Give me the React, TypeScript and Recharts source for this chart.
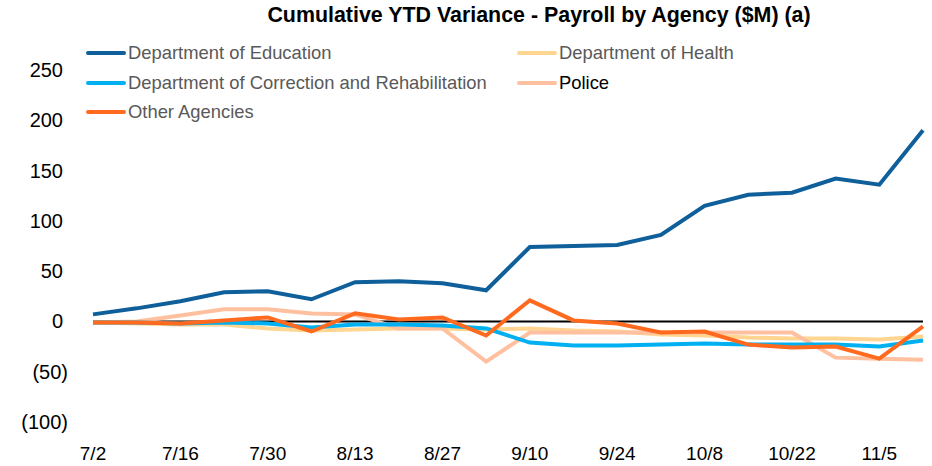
import { LineChart, Line, XAxis, YAxis, ReferenceLine } from "recharts";

const dates = ["7/2", "7/9", "7/16", "7/23", "7/30", "8/6", "8/13", "8/20", "8/27", "9/3", "9/10", "9/17", "9/24", "10/1", "10/8", "10/15", "10/22", "10/29", "11/5", "11/12"];

const education = [7, 13, 20, 29, 30, 22, 39, 40, 38, 31, 74, 75, 76, 86, 115, 126, 128, 142, 136, 190];
const health = [-1, -2, -3, -3, -7, -9, -8, -7, -7, -8, -7, -9, -10, -13, -14, -16, -17, -17, -18, -15];
const correction = [-1, -1, -2, -1, -2, -6, -3, -3, -4, -7, -21, -24, -24, -23, -22, -23, -23, -23, -25, -19];
const police = [-1, 0, 6, 12, 12, 8, 7, -7, -7, -40, -11, -11, -11, -11, -11, -11, -11, -36, -37, -38];
const other = [-1, -1, -2, 1, 4, -10, 8, 2, 4, -14, 21, 1, -2, -11, -10, -23, -26, -25, -37, -5];

const yTicks = [-100, -50, 0, 50, 100, 150, 200, 250];

const series = [
  { key: "education", name: "Department of Education", color: "#0f5f9a", values: education, labelColor: "#595959" },
  { key: "health", name: "Department of Health", color: "#ffd591", values: health, labelColor: "#595959" },
  { key: "correction", name: "Department of Correction and Rehabilitation", color: "#00b0f0", values: correction, labelColor: "#595959" },
  { key: "police", name: "Police", color: "#ffc0a0", values: police, labelColor: "#000000" },
  { key: "other", name: "Other Agencies", color: "#ff6a1f", values: other, labelColor: "#595959" },
];

// drawing order (back to front)
const drawOrder = ["health", "police", "correction", "education", "other"];

const data = dates.map((d, i) => {
  const row: Record<string, string | number> = { date: d };
  series.forEach((s) => {
    row[s.key] = s.values[i];
  });
  return row;
});

const FONT = "'Liberation Sans', Arial, sans-serif";

function fmt(v: number) {
  return v < 0 ? `(${Math.abs(v)})` : `${v}`;
}

function YTick(props: any) {
  const { x, y, payload } = props;
  const v = Number(payload.value);
  return (
    <text
      x={x}
      y={y}
      dx={v < 0 ? 0 : -5}
      dy={7}
      textAnchor="end"
      fontSize={20}
      fontFamily={FONT}
      fill="#000"
    >
      {fmt(v)}
    </text>
  );
}

function XTick(props: any) {
  const { x, y, payload } = props;
  return (
    <text x={x} y={y} dy={18} textAnchor="middle" fontSize={19} fontFamily={FONT} fill="#000">
      {payload.value}
    </text>
  );
}

function ChartLegend() {
  return (
    <div
      style={{
        position: "absolute",
        left: 86,
        top: 43,
        display: "grid",
        gridTemplateColumns: "431px 300px",
        rowGap: 9.5,
        fontFamily: FONT,
        fontSize: 18.4,
      }}
    >
      {series.map((s) => (
        <div key={s.key} style={{ display: "flex", alignItems: "center", height: 20 }}>
          <div style={{ width: 40, height: 4, borderRadius: 2, background: s.color, marginRight: 2 }} />
          <span style={{ color: s.labelColor, whiteSpace: "nowrap" }}>{s.name}</span>
        </div>
      ))}
    </div>
  );
}

export default function App() {
  return (
    <div style={{ position: "absolute", left: 0, top: 0, width: 932, height: 466, background: "#fff" }}>
      <div
        style={{
          position: "absolute",
          left: 0,
          width: 1078,
          top: 3,
          textAlign: "center",
          fontFamily: FONT,
          fontWeight: "bold",
          fontSize: 21.4,
          color: "#000",
          whiteSpace: "nowrap",
        }}
      >
        Cumulative YTD Variance - Payroll by Agency ($M) (a)
      </div>
      <ChartLegend />
      <div style={{ position: "absolute", left: 0, top: 0 }}>
        <LineChart width={932} height={466} data={data} margin={{ top: 70, right: 9, bottom: 0, left: 0 }}>
          <XAxis
            dataKey="date"
            height={44}
            interval={1}
            tickLine={false}
            axisLine={false}
            tick={<XTick />}
            tickMargin={14}
          />
          <YAxis
            width={93}
            domain={[-100, 250]}
            ticks={yTicks}
            tickLine={false}
            axisLine={false}
            tickMargin={19}
            tick={<YTick />}
          />
          <ReferenceLine y={0} stroke="#000" strokeWidth={2} />
          {drawOrder.map((k) => {
            const s = series.find((x) => x.key === k)!;
            return (
              <Line
                key={s.key}
                type="linear"
                dataKey={s.key}
                name={s.name}
                stroke={s.color}
                strokeWidth={4}
                dot={false}
                activeDot={false}
                isAnimationActive={false}
              />
            );
          })}
        </LineChart>
      </div>
    </div>
  );
}
